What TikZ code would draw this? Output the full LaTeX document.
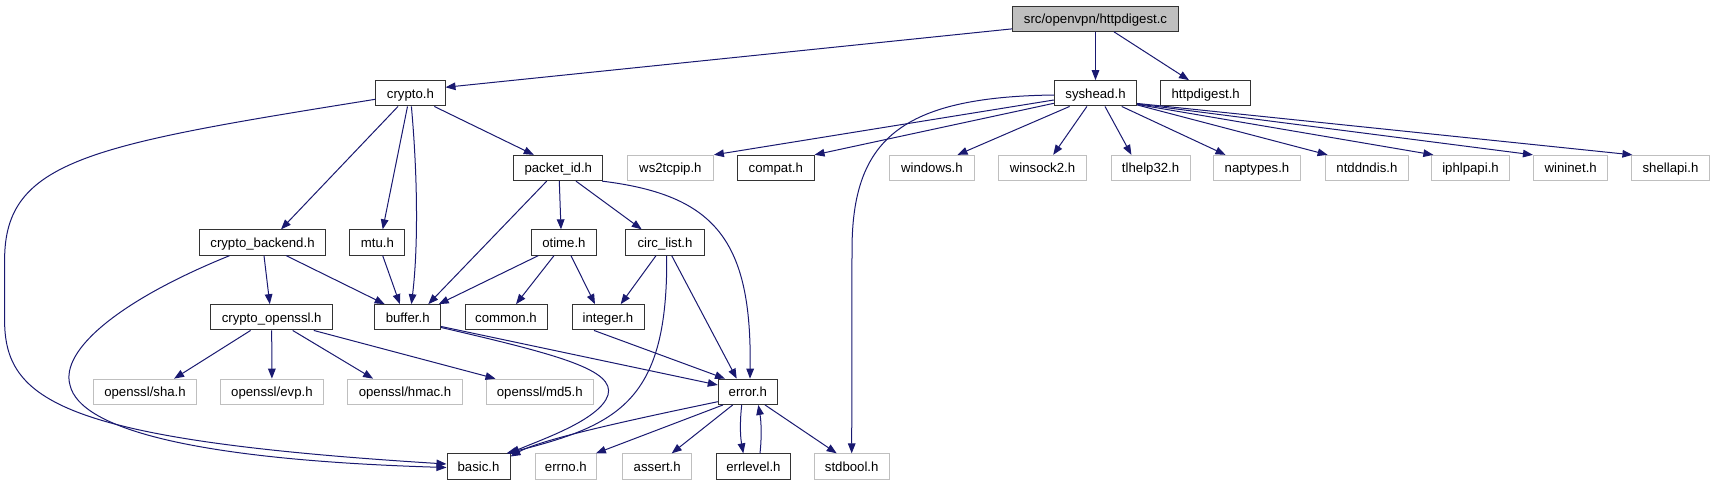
\documentclass[tikz,border=0pt]{standalone}
\usepackage{fontspec}
\setmainfont{Liberation Sans}
\usetikzlibrary{arrows.meta,calc}
\definecolor{navyc}{HTML}{191970}
\definecolor{greyb}{HTML}{BFBFBF}
\tikzset{
  fbox/.style={draw=black!80, fill=white, line width=1pt, minimum height=25.3pt, inner sep=0pt,
    text height=12pt, text depth=2.4pt, font=\fontsize{13.2}{15}\selectfont, text=black},
  gbox/.style={fbox, draw=greyb},
  topbox/.style={fbox, fill=greyb},
  dep/.style={draw=navyc, line width=1pt, -{Triangle[length=10pt,width=7.6pt]}},
}
\begin{document}
\begin{tikzpicture}[x=1pt,y=-1pt]
\useasboundingbox (0,0) rectangle (1715,485);
% row 0
\node[topbox, minimum width=165.6pt] (top) at (1095.5,18.7) {src/openvpn/httpdigest.c};
% row 1
\node[fbox, minimum width=69.2pt] (crypto) at (410.4,93.3) {crypto.h};
\node[fbox, minimum width=82.4pt] (syshead) at (1095.5,93.3) {syshead.h};
\node[fbox, minimum width=90pt] (httpdigest) at (1205.7,93.3) {httpdigest.h};
% row 2
\node[fbox, minimum width=88.7pt] (packet) at (558.3,168) {packet\_id.h};
\node[gbox, minimum width=86pt] (ws2) at (670.4,168) {ws2tcpip.h};
\node[fbox, minimum width=76.5pt] (compat) at (775.8,168) {compat.h};
\node[gbox, minimum width=84.2pt] (windows) at (931.9,168) {windows.h};
\node[gbox, minimum width=88pt] (winsock) at (1042.5,168) {winsock2.h};
\node[gbox, minimum width=79.2pt] (tlhelp) at (1150.6,168) {tlhelp32.h};
\node[gbox, minimum width=86.7pt] (naptypes) at (1257,168) {naptypes.h};
\node[gbox, minimum width=83.6pt] (ntddndis) at (1366.9,168) {ntddndis.h};
\node[gbox, minimum width=77.3pt] (iphlpapi) at (1470.5,168) {iphlpapi.h};
\node[gbox, minimum width=74.5pt] (wininet) at (1570.7,168) {wininet.h};
\node[gbox, minimum width=77.2pt] (shellapi) at (1670.5,168) {shellapi.h};
% row 3
\node[fbox, minimum width=125.6pt] (cbackend) at (262.5,242.5) {crypto\_backend.h};
\node[fbox, minimum width=55pt] (mtu) at (377.4,242.5) {mtu.h};
\node[fbox, minimum width=65.7pt] (otime) at (563.9,242.5) {otime.h};
\node[fbox, minimum width=78.6pt] (circ) at (665,242.5) {circ\_list.h};
% row 4
\node[fbox, minimum width=121.7pt] (copenssl) at (271.7,317.3) {crypto\_openssl.h};
\node[fbox, minimum width=65.5pt] (buffer) at (407.7,317.3) {buffer.h};
\node[fbox, minimum width=82pt] (common) at (506,317.3) {common.h};
\node[fbox, minimum width=72pt] (integer) at (608,317.3) {integer.h};
% row 5
\node[gbox, minimum width=102.5pt] (sha) at (145,391.8) {openssl/sha.h};
\node[gbox, minimum width=103pt] (evp) at (271.9,391.8) {openssl/evp.h};
\node[gbox, minimum width=115pt] (hmac) at (405,391.8) {openssl/hmac.h};
\node[gbox, minimum width=106.7pt] (md5) at (539.8,391.8) {openssl/md5.h};
\node[fbox, minimum width=59pt] (error) at (747.8,391.8) {error.h};
% row 6
\node[fbox, minimum width=63pt] (basic) at (478.5,466.5) {basic.h};
\node[gbox, minimum width=61.7pt] (errno) at (565.9,466.5) {errno.h};
\node[gbox, minimum width=69pt] (assert) at (657.2,466.5) {assert.h};
\node[fbox, minimum width=74.7pt] (errlevel) at (753.4,466.5) {errlevel.h};
\node[gbox, minimum width=74.7pt] (stdbool) at (851.7,466.5) {stdbool.h};

% edges from top
\draw[dep] ($(top.south west)+(0,-3)$) -- ($(crypto.east)+(0,-6)$);
\draw[dep] (top.south) -- (syshead.north);
\draw[dep] ($(top.south)+(18.5,0)$) -- ($(httpdigest.north)+(-16.7,0)$);
% crypto
\draw[dep] ($(crypto.west)+(0,6)$) .. controls (90,145) and (4.6,160) .. (4.6,260) -- (4.6,320) .. controls (4.6,400) and (60,440) .. ($(basic.west)+(0,-2.5)$);
\draw[dep] ($(crypto.south)+(-12.4,0)$) -- ($(cbackend.north)+(18.5,0)$);
\draw[dep] ($(crypto.south)+(-2.9,0)$) -- ($(mtu.north)+(5.3,0)$);
\draw[dep] ($(crypto.south)+(1,0)$) .. controls (418,180) and (418,250) .. ($(buffer.north)+(3.7,0)$);
\draw[dep] ($(crypto.south)+(23.9,0)$) -- ($(packet.north)+(-24.5,0)$);
% crypto_backend
\draw[dep] ($(cbackend.south)+(-32.9,0)$) .. controls (120,300) and (60,350) .. (70,385) .. controls (80,430) and (200,460) .. ($(basic.west)+(0,1)$);
\draw[dep] ($(cbackend.south)+(1.5,0)$) -- ($(copenssl.north)+(-1.9,0)$);
\draw[dep] ($(cbackend.south)+(23.7,0)$) -- ($(buffer.north)+(-23,0)$);
% mtu
\draw[dep] ($(mtu.south)+(5.3,0)$) -- ($(buffer.north)+(-7.8,0)$);
% packet_id
\draw[dep] ($(packet.south)+(-11.6,0)$) -- ($(buffer.north)+(20.6,0)$);
\draw[dep] ($(packet.south)+(1,0)$) -- ($(otime.north)+(-2.9,0)$);
\draw[dep] ($(packet.south)+(17.7,0)$) -- ($(circ.north)+(-23.3,0)$);
\draw[dep] ($(packet.south east)+(-1,0)$) .. controls (715,195) and (752,240) .. ($(error.north)+(2.2,0)$);
% otime
\draw[dep] ($(otime.south)+(-25.6,0)$) -- ($(buffer.north)+(31,0)$);
\draw[dep] ($(otime.south)+(-9.9,0)$) -- ($(common.north)+(10,0)$);
\draw[dep] ($(otime.south)+(7.1,0)$) -- ($(integer.north)+(-13,0)$);
% circ_list
\draw[dep] ($(circ.south)+(-9,0)$) -- ($(integer.north)+(12.7,0)$);
\draw[dep] ($(circ.south)+(6.7,0)$) -- ($(error.north)+(-11.1,0)$);
\draw[dep] ($(circ.south)+(1.7,0)$) .. controls (668,400) and (620,425) .. ($(basic.north east)+(-4,0)$);
% crypto_openssl
\draw[dep] ($(copenssl.south)+(-21.1,0)$) -- ($(sha.north)+(29.1,0)$);
\draw[dep] (copenssl.south) -- (evp.north);
\draw[dep] ($(copenssl.south)+(21,0)$) -- ($(hmac.north)+(-31.9,0)$);
\draw[dep] ($(copenssl.south)+(42.1,0)$) -- ($(md5.north)+(-44.3,0)$);
% buffer
\draw[dep] ($(buffer.south east)+(0,-4)$) -- ($(error.west)+(0,-6.8)$);
\draw[dep] ($(buffer.south east)+(0,-3)$) .. controls (560,355) and (615,370) .. (608,395) .. controls (600,420) and (540,440) .. ($(basic.north east)+(-1,0)$);
% integer
\draw[dep] ($(integer.south)+(-14,0)$) -- ($(error.north)+(-22.8,0)$);
% error
\draw[dep] ($(error.west)+(0,9.9)$) .. controls (620,422) and (540,440) .. ($(basic.east)+(0,-10)$);
\draw[dep] ($(error.south)+(-24.8,0)$) -- ($(errno.north)+(30,0)$);
\draw[dep] ($(error.south)+(-15.1,0)$) -- ($(assert.north)+(14.5,0)$);
\draw[dep] ($(error.south)+(-6.1,0)$) .. controls (740,420) and (740,435) .. ($(errlevel.north)+(-10.1,0)$);
\draw[dep] ($(errlevel.north)+(6.6,0)$) .. controls (762,435) and (761,420) .. ($(error.south)+(10.5,0)$);
\draw[dep] ($(error.south)+(17.2,0)$) -- ($(stdbool.north)+(-15,0)$);
% syshead
\draw[dep] ($(syshead.west)+(0,1.7)$) .. controls (900,97) and (852,140) .. (852,250) -- (stdbool.north);
\draw[dep] ($(syshead.west)+(0,6.7)$) -- (ws2.north east);
\draw[dep] ($(syshead.west)+(0,10)$) -- (compat.north east);
\draw[dep] ($(syshead.south)+(-25.9,0)$) -- ($(windows.north)+(25.6,0)$);
\draw[dep] ($(syshead.south)+(-8.6,0)$) -- ($(winsock.north)+(10.7,0)$);
\draw[dep] ($(syshead.south)+(9.5,0)$) -- ($(tlhelp.north)+(-19.2,0)$);
\draw[dep] ($(syshead.south)+(26.2,0)$) -- ($(naptypes.north)+(-31.5,0)$);
\draw[dep] ($(syshead.south east)+(0,-1.5)$) -- ($(ntddndis.north west)+(3,0)$);
\draw[dep] ($(syshead.south east)+(0,-2)$) -- ($(iphlpapi.north west)+(2,0)$);
\draw[dep] ($(syshead.south east)+(0,-2.5)$) -- (wininet.north west);
\draw[dep] ($(syshead.south east)+(0,-3)$) -- ($(shellapi.north west)+(1,0)$);
\end{tikzpicture}
\end{document}
